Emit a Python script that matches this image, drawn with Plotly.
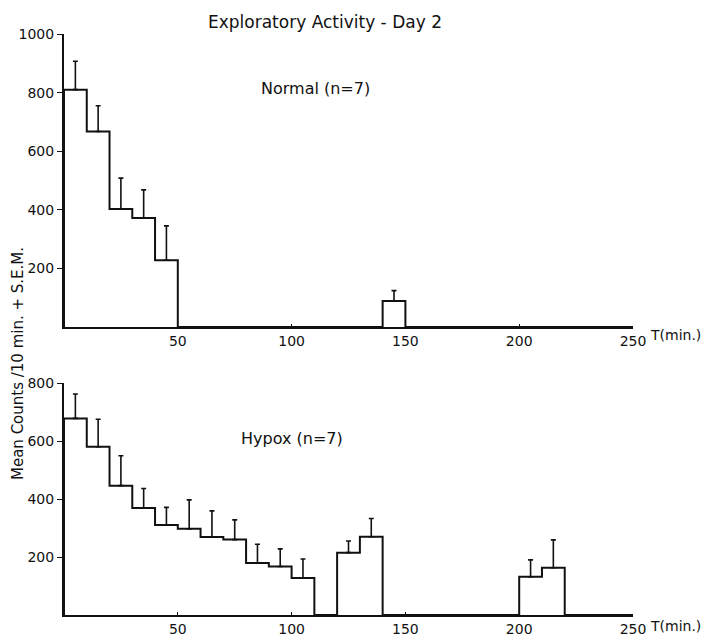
import plotly.graph_objects as go

# ---- data (10-min bins, 0..250 min) ----
bin_left = list(range(0, 250, 10))
bin_width = 10

normal_mean = [810, 667, 403, 372, 228, 0, 0, 0, 0, 0, 0, 0, 0, 0, 89,
               0, 0, 0, 0, 0, 0, 0, 0, 0, 0]
normal_top = [907, 755, 508, 468, 345, None, None, None, None, None, None, None, None, None, 124,
              None, None, None, None, None, None, None, None, None, None]

hypox_mean = [678, 580, 446, 369, 310, 297, 269, 260, 179, 167, 128, 0, 215, 270, 0,
              0, 0, 0, 0, 0, 132, 163, 0, 0, 0]
hypox_top = [762, 675, 549, 436, 371, 397, 359, 328, 244, 228, 193, None, 255, 333, None,
             None, None, None, None, None, 190, 259, None, None, None]

x_ticks = [50, 100, 150, 200, 250]
top_yticks = [200, 400, 600, 800, 1000]
bot_yticks = [200, 400, 600, 800]

# page body has an 8px margin: size the figure to the remaining viewport
OFF = 8
W, H = 712 - OFF, 637 - OFF
INK = "#111111"
FONT = "DejaVu Sans"


def fx(px):
    return (px - OFF) / W


def fy(py):
    return 1 - (py - OFF) / H


fig = go.Figure()


def add_panel(means, tops, xa, ya):
    xs = [bin_left[0]] + bin_left + [bin_left[-1] + bin_width]
    ys = [0] + means + [means[-1]]
    fig.add_trace(go.Scatter(x=xs, y=ys, mode="lines", line=dict(color=INK, width=2, shape="hv"),
                             xaxis=xa, yaxis=ya, showlegend=False, hoverinfo="skip"))
    cx, cy, ce = [], [], []
    for l, m, t in zip(bin_left, means, tops):
        if t is not None:
            cx.append(l + bin_width / 2)
            cy.append(m)
            ce.append(t - m)
    fig.add_trace(go.Scatter(x=cx, y=cy, mode="markers", marker=dict(size=1, color="rgba(0,0,0,0)"),
                             error_y=dict(type="data", array=ce, arrayminus=[0] * len(ce), symmetric=False,
                                          color=INK, thickness=1.6, width=2.5),
                             xaxis=xa, yaxis=ya, showlegend=False, hoverinfo="skip"))


add_panel(normal_mean, normal_top, "x", "y")
add_panel(hypox_mean, hypox_top, "x2", "y2")

xdom = [fx(64), fx(633)]
axis_common = dict(showgrid=False, zeroline=False, showline=True, linecolor=INK, linewidth=2,
                   automargin=False, tickcolor=INK,
                   tickfont=dict(family=FONT, size=14, color=INK))
xaxis_style = dict(domain=xdom, range=[0, 250], tickvals=x_ticks, ticks="inside", ticklen=3, **axis_common)
yaxis_style = dict(ticks="outside", ticklen=5, **axis_common)

fig.update_layout(
    template="none",
    width=W, height=H, margin=dict(l=0, r=0, t=0, b=0, pad=0),
    paper_bgcolor="white", plot_bgcolor="white",
    xaxis=dict(anchor="y", **xaxis_style),
    yaxis=dict(domain=[fy(327), fy(34)], range=[0, 1000], tickvals=top_yticks, anchor="x", **yaxis_style),
    xaxis2=dict(anchor="y2", **xaxis_style),
    yaxis2=dict(domain=[fy(615), fy(383)], range=[0, 800], tickvals=bot_yticks, anchor="x2", **yaxis_style),
    showlegend=False,
)


def label(text, px, py, size=16, xanchor="center", angle=0):
    fig.add_annotation(text=text, x=fx(px), y=fy(py), xref="paper", yref="paper",
                       xanchor=xanchor, yanchor="middle", showarrow=False, textangle=angle,
                       font=dict(family=FONT, size=size, color=INK))


label("Exploratory Activity - Day 2", 325, 22, size=17)
label("Normal (n=7)", 315, 89, size=16)
label("Hypox (n=7)", 292, 438, size=16)
label("Mean Counts /10 min. + S.E.M.", 18, 364, size=15, angle=-90)
label("T(min.)", 648, 335, size=14, xanchor="left")
label("T(min.)", 648, 626, size=14, xanchor="left")

fig.write_html("out.html")
